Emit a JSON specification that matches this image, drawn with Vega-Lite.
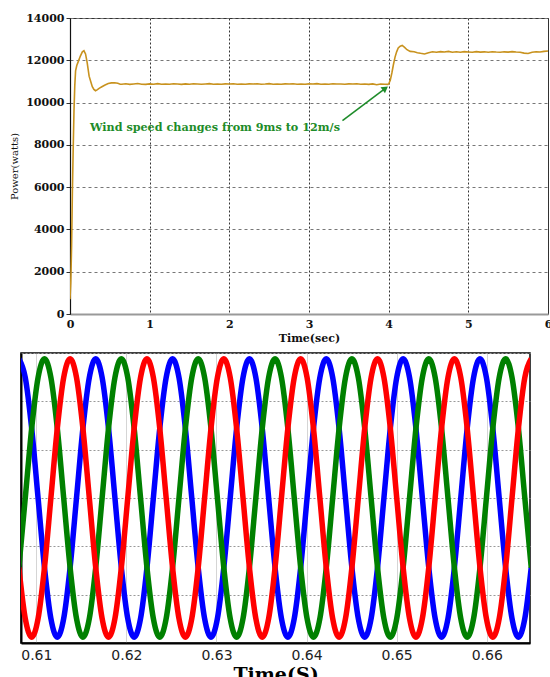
{
  "$schema": "https://vega.github.io/schema/vega-lite/v6.json",
  "background": "white",
  "padding": {"left": 9, "top": 11, "right": 0, "bottom": 0},
  "autosize": {"type": "pad"},
  "spacing": 8,
  "datasets": {
    "power": [
      {"t":0,"P":700},{"t":0.01,"P":1500},{"t":0.02,"P":3200},{"t":0.03,"P":5800},{"t":0.04,"P":7800},{"t":0.05,"P":9600},{"t":0.06,"P":10800},{"t":0.07,"P":11500},{"t":0.085,"P":11750},{"t":0.1,"P":11900},{"t":0.13,"P":12200},{"t":0.155,"P":12400},{"t":0.175,"P":12450},{"t":0.195,"P":12300},{"t":0.215,"P":11900},{"t":0.24,"P":11250},{"t":0.26,"P":11000},{"t":0.28,"P":10750},{"t":0.3,"P":10620},{"t":0.32,"P":10560},{"t":0.34,"P":10600},{"t":0.37,"P":10680},{"t":0.4,"P":10750},{"t":0.44,"P":10830},{"t":0.48,"P":10900},{"t":0.52,"P":10930},{"t":0.56,"P":10940},{"t":0.6,"P":10910},{"t":0.63,"P":10870},
      {"t":0.65,"P":10870},{"t":0.7,"P":10890},{"t":0.75,"P":10860},{"t":0.8,"P":10880},{"t":0.85,"P":10900},{"t":0.9,"P":10870},{"t":0.95,"P":10860},{"t":1.0,"P":10885},{"t":1.05,"P":10870},{"t":1.1,"P":10895},{"t":1.15,"P":10865},{"t":1.2,"P":10880},{"t":1.25,"P":10870},{"t":1.3,"P":10890},{"t":1.35,"P":10875},{"t":1.4,"P":10860},{"t":1.45,"P":10885},{"t":1.5,"P":10870},{"t":1.55,"P":10890},{"t":1.6,"P":10880},{"t":1.65,"P":10865},{"t":1.7,"P":10880},{"t":1.75,"P":10895},{"t":1.8,"P":10870},{"t":1.85,"P":10880},{"t":1.9,"P":10865},{"t":1.95,"P":10885},{"t":2.0,"P":10875},{"t":2.05,"P":10890},{"t":2.1,"P":10870},{"t":2.15,"P":10880},{"t":2.2,"P":10865},{"t":2.25,"P":10885},{"t":2.3,"P":10875},{"t":2.35,"P":10890},{"t":2.4,"P":10870},{"t":2.45,"P":10880},{"t":2.5,"P":10895},{"t":2.55,"P":10870},{"t":2.6,"P":10880},{"t":2.65,"P":10865},{"t":2.7,"P":10885},{"t":2.75,"P":10875},{"t":2.8,"P":10890},{"t":2.85,"P":10870},{"t":2.9,"P":10880},{"t":2.95,"P":10865},{"t":3.0,"P":10885},{"t":3.05,"P":10875},{"t":3.1,"P":10895},{"t":3.15,"P":10870},{"t":3.2,"P":10880},{"t":3.25,"P":10865},{"t":3.3,"P":10890},{"t":3.35,"P":10875},{"t":3.4,"P":10880},{"t":3.45,"P":10865},{"t":3.5,"P":10885},{"t":3.55,"P":10875},{"t":3.6,"P":10890},{"t":3.65,"P":10870},{"t":3.7,"P":10880},{"t":3.75,"P":10860},{"t":3.8,"P":10885},{"t":3.85,"P":10845},{"t":3.9,"P":10880},{"t":3.95,"P":10870},{"t":3.99,"P":10860},
      {"t":4.0,"P":10880},{"t":4.02,"P":11050},{"t":4.04,"P":11400},{"t":4.06,"P":11800},{"t":4.08,"P":12150},{"t":4.1,"P":12400},{"t":4.12,"P":12580},{"t":4.145,"P":12670},{"t":4.17,"P":12700},{"t":4.2,"P":12610},{"t":4.23,"P":12500},{"t":4.27,"P":12420},{"t":4.32,"P":12400},{"t":4.36,"P":12360},{"t":4.4,"P":12330},{"t":4.45,"P":12300},{"t":4.5,"P":12360},{"t":4.55,"P":12400},{"t":4.6,"P":12380},{"t":4.65,"P":12410},{"t":4.7,"P":12390},{"t":4.75,"P":12420},{"t":4.8,"P":12380},{"t":4.85,"P":12400},{"t":4.9,"P":12380},{"t":4.95,"P":12410},{"t":5.0,"P":12395},{"t":5.05,"P":12380},{"t":5.1,"P":12410},{"t":5.15,"P":12385},{"t":5.2,"P":12400},{"t":5.25,"P":12380},{"t":5.3,"P":12405},{"t":5.35,"P":12390},{"t":5.4,"P":12380},{"t":5.45,"P":12400},{"t":5.5,"P":12385},{"t":5.55,"P":12410},{"t":5.6,"P":12390},{"t":5.65,"P":12380},{"t":5.7,"P":12340},{"t":5.75,"P":12320},{"t":5.8,"P":12380},{"t":5.85,"P":12400},{"t":5.9,"P":12390},{"t":5.95,"P":12420},{"t":6.0,"P":12440}
    ],
    "note": [{"t":0.25,"P":8790,"label":"Wind speed changes from 9ms to 12m/s"}],
    "arrow": [{"t":3.42,"P":9143,"t2":3.958,"P2":10671}],
    "head": [{"t":3.958,"P":10671}],
    "wave": [
      {"t":0.608063,"a":2.88,"b":-1.44,"c":-1.44},{"t":0.608774,"a":2.494,"b":0,"c":-2.494},{"t":0.609485,"a":1.44,"b":1.44,"c":-2.88},{"t":0.610196,"a":0,"b":2.494,"c":-2.494},{"t":0.610907,"a":-1.44,"b":2.88,"c":-1.44},{"t":0.611618,"a":-2.494,"b":2.494,"c":0},{"t":0.612329,"a":-2.88,"b":1.44,"c":1.44},{"t":0.613039,"a":-2.494,"b":0,"c":2.494},{"t":0.61375,"a":-1.44,"b":-1.44,"c":2.88},{"t":0.614461,"a":0,"b":-2.494,"c":2.494},{"t":0.615172,"a":1.44,"b":-2.88,"c":1.44},{"t":0.615883,"a":2.494,"b":-2.494,"c":0},
      {"t":0.616594,"a":2.88,"b":-1.44,"c":-1.44},{"t":0.617305,"a":2.494,"b":0,"c":-2.494},{"t":0.618016,"a":1.44,"b":1.44,"c":-2.88},{"t":0.618727,"a":0,"b":2.494,"c":-2.494},{"t":0.619438,"a":-1.44,"b":2.88,"c":-1.44},{"t":0.620149,"a":-2.494,"b":2.494,"c":0},{"t":0.62086,"a":-2.88,"b":1.44,"c":1.44},{"t":0.62157,"a":-2.494,"b":0,"c":2.494},{"t":0.622281,"a":-1.44,"b":-1.44,"c":2.88},{"t":0.622992,"a":0,"b":-2.494,"c":2.494},{"t":0.623703,"a":1.44,"b":-2.88,"c":1.44},{"t":0.624414,"a":2.494,"b":-2.494,"c":0},
      {"t":0.625125,"a":2.88,"b":-1.44,"c":-1.44},{"t":0.625836,"a":2.494,"b":0,"c":-2.494},{"t":0.626547,"a":1.44,"b":1.44,"c":-2.88},{"t":0.627258,"a":0,"b":2.494,"c":-2.494},{"t":0.627969,"a":-1.44,"b":2.88,"c":-1.44},{"t":0.62868,"a":-2.494,"b":2.494,"c":0},{"t":0.629391,"a":-2.88,"b":1.44,"c":1.44},{"t":0.630101,"a":-2.494,"b":0,"c":2.494},{"t":0.630812,"a":-1.44,"b":-1.44,"c":2.88},{"t":0.631523,"a":0,"b":-2.494,"c":2.494},{"t":0.632234,"a":1.44,"b":-2.88,"c":1.44},{"t":0.632945,"a":2.494,"b":-2.494,"c":0},
      {"t":0.633656,"a":2.88,"b":-1.44,"c":-1.44},{"t":0.634367,"a":2.494,"b":0,"c":-2.494},{"t":0.635078,"a":1.44,"b":1.44,"c":-2.88},{"t":0.635789,"a":0,"b":2.494,"c":-2.494},{"t":0.6365,"a":-1.44,"b":2.88,"c":-1.44},{"t":0.637211,"a":-2.494,"b":2.494,"c":0},{"t":0.637922,"a":-2.88,"b":1.44,"c":1.44},{"t":0.638633,"a":-2.494,"b":0,"c":2.494},{"t":0.639343,"a":-1.44,"b":-1.44,"c":2.88},{"t":0.640054,"a":0,"b":-2.494,"c":2.494},{"t":0.640765,"a":1.44,"b":-2.88,"c":1.44},{"t":0.641476,"a":2.494,"b":-2.494,"c":0},
      {"t":0.642187,"a":2.88,"b":-1.44,"c":-1.44},{"t":0.642898,"a":2.494,"b":0,"c":-2.494},{"t":0.643609,"a":1.44,"b":1.44,"c":-2.88},{"t":0.64432,"a":0,"b":2.494,"c":-2.494},{"t":0.645031,"a":-1.44,"b":2.88,"c":-1.44},{"t":0.645742,"a":-2.494,"b":2.494,"c":0},{"t":0.646453,"a":-2.88,"b":1.44,"c":1.44},{"t":0.647164,"a":-2.494,"b":0,"c":2.494},{"t":0.647874,"a":-1.44,"b":-1.44,"c":2.88},{"t":0.648585,"a":0,"b":-2.494,"c":2.494},{"t":0.649296,"a":1.44,"b":-2.88,"c":1.44},{"t":0.650007,"a":2.494,"b":-2.494,"c":0},
      {"t":0.650718,"a":2.88,"b":-1.44,"c":-1.44},{"t":0.651429,"a":2.494,"b":0,"c":-2.494},{"t":0.65214,"a":1.44,"b":1.44,"c":-2.88},{"t":0.652851,"a":0,"b":2.494,"c":-2.494},{"t":0.653562,"a":-1.44,"b":2.88,"c":-1.44},{"t":0.654273,"a":-2.494,"b":2.494,"c":0},{"t":0.654984,"a":-2.88,"b":1.44,"c":1.44},{"t":0.655695,"a":-2.494,"b":0,"c":2.494},{"t":0.656406,"a":-1.44,"b":-1.44,"c":2.88},{"t":0.657116,"a":0,"b":-2.494,"c":2.494},{"t":0.657827,"a":1.44,"b":-2.88,"c":1.44},{"t":0.658538,"a":2.494,"b":-2.494,"c":0},
      {"t":0.659249,"a":2.88,"b":-1.44,"c":-1.44},{"t":0.65996,"a":2.494,"b":0,"c":-2.494},{"t":0.660671,"a":1.44,"b":1.44,"c":-2.88},{"t":0.661382,"a":0,"b":2.494,"c":-2.494},{"t":0.662093,"a":-1.44,"b":2.88,"c":-1.44},{"t":0.662804,"a":-2.494,"b":2.494,"c":0},{"t":0.663515,"a":-2.88,"b":1.44,"c":1.44},{"t":0.664225,"a":-2.494,"b":0,"c":2.494},{"t":0.664936,"a":-1.44,"b":-1.44,"c":2.88}
    ]
  },
  "vconcat": [
    {
      "spacing": 48,
      "bounds": "flush",
      "hconcat": [
        {"width": 1, "height": 296, "data": {"values": []}, "mark": "point", "view": {"stroke": null}},
        {
          "width": 478,
          "height": 296,
          "view": {"stroke": "#333", "strokeWidth": 1},
          "layer": [
            {
              "data": {"name": "power"},
              "mark": {"type": "line", "color": "#C8921E", "strokeWidth": 1.6, "clip": true},
              "encoding": {
                "x": {"field": "t", "type": "quantitative", "scale": {"domain": [0, 6], "nice": false, "zero": false},
                  "axis": {"values": [0,1,2,3,4,5,6], "format": "d", "title": "Time(sec)", "titleFont": "DejaVu Serif", "titleFontWeight": "bold", "titleFontSize": 11, "titleColor": "#111", "titlePadding": 3,
                    "labelFont": "DejaVu Serif", "labelFontWeight": "bold", "labelFontSize": 11, "labelColor": "#111", "labelPadding": 4, "labelFlush": false, "labelOverlap": false,
                    "ticks": false, "domainColor": "#999", "domainWidth": 2, "grid": true, "gridColor": "#333", "gridDash": [2, 2], "gridWidth": 1}},
                "y": {"field": "P", "type": "quantitative", "scale": {"domain": [0, 14000], "nice": false},
                  "axis": {"values": [0,2000,4000,6000,8000,10000,12000,14000], "format": "d", "title": "Power(watts)", "titleFont": "DejaVu Serif", "titleFontWeight": "normal", "titleFontSize": 10, "titleColor": "#111", "titlePadding": 6,
                    "labelFont": "DejaVu Serif", "labelFontWeight": "bold", "labelFontSize": 11, "labelColor": "#111", "labelPadding": 2, "labelFlush": false,
                    "tickSize": 4, "tickColor": "#333", "domainColor": "#111", "domainWidth": 1.2, "grid": true, "gridColor": "#777", "gridDash": [3, 3], "gridWidth": 1}}
              }
            },
            {
              "data": {"name": "note"},
              "mark": {"type": "text", "align": "left", "baseline": "middle", "font": "DejaVu Serif", "fontWeight": "bold", "fontSize": 11.2, "color": "#1e8c2a"},
              "encoding": {
                "x": {"field": "t", "type": "quantitative"},
                "y": {"field": "P", "type": "quantitative"},
                "text": {"field": "label"}
              }
            },
            {
              "data": {"name": "arrow"},
              "mark": {"type": "rule", "color": "#1e8c2a", "strokeWidth": 1.6},
              "encoding": {
                "x": {"field": "t", "type": "quantitative"},
                "y": {"field": "P", "type": "quantitative"},
                "x2": {"field": "t2"},
                "y2": {"field": "P2"}
              }
            },
            {
              "data": {"name": "head"},
              "mark": {"type": "point", "shape": "triangle-up", "filled": true, "color": "#1e8c2a", "opacity": 1, "size": 55, "angle": 53},
              "encoding": {
                "x": {"field": "t", "type": "quantitative"},
                "y": {"field": "P", "type": "quantitative"}
              }
            }
          ]
        }
      ]
    },
    {
      "width": 509,
      "height": 290,
      "data": {"name": "wave"},
      "view": {"stroke": "#000", "strokeWidth": 1.5},
      "encoding": {
        "x": {"field": "t", "type": "quantitative", "scale": {"domain": [0.6083, 0.6648], "nice": false, "zero": false},
          "axis": {"values": [0.61,0.62,0.63,0.64,0.65,0.66], "format": ".2f", "title": "Time(S)", "titleFont": "DejaVu Serif", "titleFontWeight": "bold", "titleFontSize": 19, "titleColor": "#000", "titlePadding": 3,
            "labelFont": "DejaVu Sans", "labelFontSize": 14, "labelColor": "#222", "labelPadding": 5, "labelFlush": false,
            "ticks": false, "domainColor": "#000", "domainWidth": 2, "grid": true, "gridColor": "#aaa", "gridDash": [1, 1], "gridWidth": 1}}
      },
      "layer": [
        {
          "mark": {"type": "line", "color": "#0000ff", "strokeWidth": 5.5, "interpolate": "monotone", "clip": true},
          "encoding": {
            "y": {"field": "a", "type": "quantitative", "scale": {"domain": [-3, 3], "nice": false},
              "axis": {"values": [-3,-2,-1,0,1,2,3], "labels": false, "ticks": false, "title": null, "domainColor": "#000", "domainWidth": 2, "grid": true, "gridColor": "#999", "gridDash": [2, 2], "gridWidth": 1}}
          }
        },
        {
          "mark": {"type": "line", "color": "#008000", "strokeWidth": 5.5, "interpolate": "monotone", "clip": true},
          "encoding": {"y": {"field": "b", "type": "quantitative"}}
        },
        {
          "mark": {"type": "line", "color": "#ff0000", "strokeWidth": 5.5, "interpolate": "monotone", "clip": true},
          "encoding": {"y": {"field": "c", "type": "quantitative"}}
        }
      ]
    }
  ]
}
